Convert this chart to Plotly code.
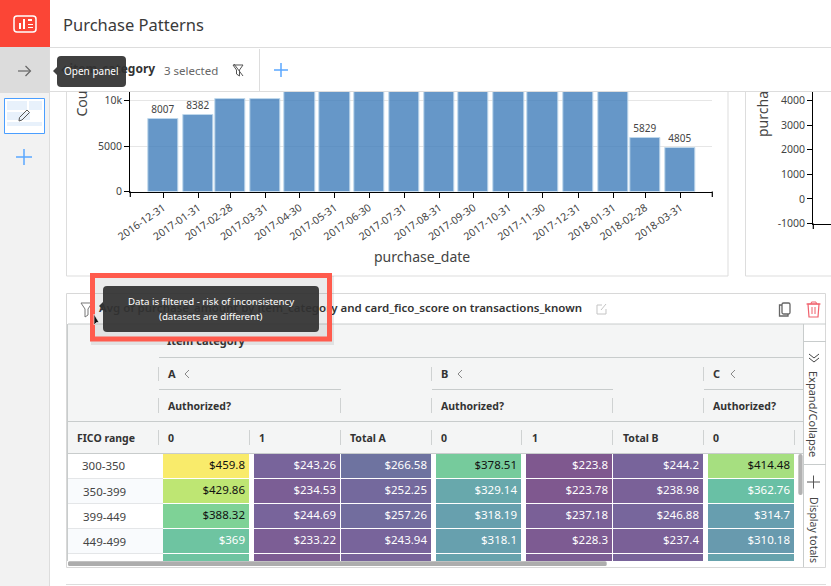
import plotly.graph_objects as go

W, H = 831, 586
FONT = "Noto Sans"
DARK = "#333333"
LINE = "#dddddd"
BLUE = "#5aa7ff"

# bar chart values (bars above the header are hidden in the screenshot, estimated)
purchase_dates = ["2016-12-31", "2017-01-31", "2017-02-28", "2017-03-31", "2017-04-30",
                  "2017-05-31", "2017-06-30", "2017-07-31", "2017-08-31", "2017-09-30",
                  "2017-10-31", "2017-11-30", "2017-12-31", "2018-01-31", "2018-02-28",
                  "2018-03-31"]
purchase_counts = [8007, 8382, 10150, 10150, 11200, 12300, 12800, 13900, 14700, 15200,
                   16700, 17300, 19400, 19800, 5829, 4805]
bar_labels = ["8007", "8382", "", "", "", "", "", "", "", "", "", "", "", "", "5829", "4805"]
bar_ticks = [0, 5000, 10000]
bar_tick_labels = ["0", "5000", "10k"]
side_ticks = [-1000, 0, 1000, 2000, 3000, 4000]

# pivot table values (last row is cut off in the screenshot, colours only)
fico_ranges = ["300-350", "350-399", "399-449", "449-499", ""]
col_a0 = [459.8, 429.86, 388.32, 369, 369]
col_a1 = [243.26, 234.53, 244.69, 233.22, 230]
col_a_total = [266.58, 252.25, 257.26, 243.94, 243]
col_b0 = [378.51, 329.14, 318.19, 318.1, 322]
col_b1 = [223.8, 223.78, 237.18, 228.3, 233]
col_b_total = [244.2, 238.98, 246.88, 237.4, 243]
col_c0 = [414.48, 362.76, 314.7, 310.18, 322]
table_headers = ["0", "1", "Total A", "0", "1", "Total B", "0"]

# colours read from the cells
heat_values = [223.78, 244, 266.58, 314, 362.76, 388.32, 429.86, 459.8]
heat_colors = ["#7f588f", "#78649b", "#6e73a0", "#679daf", "#69c0a5", "#7ed296", "#bee673", "#f9eb6b"]

table_cols = [col_a0, col_a1, col_a_total, col_b0, col_b1, col_b_total, col_c0]
cell_left = [163, 254, 341, 436, 526, 613, 708]
cell_right = [249, 340, 431, 521, 612, 703, 794]
row_top = [454, 479, 504, 529, 554, 579]


def xp(x):
    return x / W


def yp(y):
    return 1 - y / H


def pt(x, y):
    return f"{xp(x):.5f},{yp(y):.5f}"


shapes = []
annotations = []


def rect(x0, y0, x1, y1, fill=None, line=None, width=1, layer="below"):
    shapes.append(dict(type="rect", xref="paper", yref="paper", x0=xp(x0), x1=xp(x1),
                       y0=yp(y1), y1=yp(y0), fillcolor=fill or "rgba(0,0,0,0)",
                       line=dict(color=line or "rgba(0,0,0,0)", width=width if line else 0),
                       layer=layer))


def seg(x0, y0, x1, y1, color=LINE, width=1, layer="below"):
    shapes.append(dict(type="line", xref="paper", yref="paper", x0=xp(x0), x1=xp(x1),
                       y0=yp(y0), y1=yp(y1), line=dict(color=color, width=width), layer=layer))


def path(points, fill=None, line=None, width=1, close=True, layer="above"):
    d = "M" + " L".join(pt(x, y) for x, y in points) + (" Z" if close else "")
    shapes.append(dict(type="path", xref="paper", yref="paper", path=d,
                       fillcolor=fill or "rgba(0,0,0,0)",
                       line=dict(color=line or "rgba(0,0,0,0)", width=width if line else 0),
                       layer=layer))


def round_rect(x0, y0, x1, y1, r, fill=None, line=None, width=1, layer="above"):
    d = (f"M{pt(x0 + r, y0)} L{pt(x1 - r, y0)} Q{pt(x1, y0)} {pt(x1, y0 + r)} "
         f"L{pt(x1, y1 - r)} Q{pt(x1, y1)} {pt(x1 - r, y1)} L{pt(x0 + r, y1)} "
         f"Q{pt(x0, y1)} {pt(x0, y1 - r)} L{pt(x0, y0 + r)} Q{pt(x0, y0)} {pt(x0 + r, y0)} Z")
    shapes.append(dict(type="path", xref="paper", yref="paper", path=d,
                       fillcolor=fill or "rgba(0,0,0,0)",
                       line=dict(color=line or "rgba(0,0,0,0)", width=width if line else 0),
                       layer=layer))


def label(x, y, text, size=12, color=DARK, anchor="left", bold=False, angle=0):
    annotations.append(dict(xref="paper", yref="paper", x=xp(x), y=yp(y), showarrow=False,
                            text=f"<b>{text}</b>" if bold else text, textangle=angle,
                            xanchor=anchor, yanchor="middle", borderpad=0,
                            font=dict(family=FONT, size=size, color=color)))


# page chrome under the charts
rect(0, 0, 50, H, fill="#f2f2f2")
seg(49.5, 47, 49.5, H)
rect(0, 47, 49, 93, fill="#dcdcdc")
rect(66.5, 91.5, 728, 276, line=LINE)
rect(745.5, 91.5, 840, 276, line=LINE)
rect(66.5, 293.5, 825.5, 567.5, line="#d8d8d8")
rect(68, 324, 803, 453, fill="#f4f5f5")
seg(68, 324, 826, 324, color="#c8cccc")
seg(159, 357.5, 803, 357.5, color="#c8cccc")
seg(159, 389.5, 341, 389.5, color="#c8cccc")
seg(432, 389.5, 613, 389.5, color="#c8cccc")
seg(704, 389.5, 803, 389.5, color="#c8cccc")
seg(68, 421.5, 803, 421.5, color="#c8cccc")
seg(68, 453.5, 803, 453.5, color="#c8cccc")
seg(67.5, 324, 67.5, 561, color="#c8cccc")
seg(803.5, 324, 803.5, 567, color="#c8cccc")
seg(803.5, 341.5, 826, 341.5, color="#c8cccc")
seg(803.5, 464.5, 826, 464.5, color="#c8cccc")
seg(66, 584.5, 826, 584.5)
for x in [158.5, 431.5, 703.5]:
    seg(x, 367, x, 381, color="#cfd2d2")
for x in [158.5, 340.5, 431.5, 612.5, 703.5]:
    seg(x, 398, x, 413, color="#cfd2d2")
for x in [158.5, 249.5, 340.5, 431.5, 521.5, 612.5, 703.5, 794.5]:
    seg(x, 430, x, 445, color="#cfd2d2")
rect(68, 479, 163, 504, fill="#f9fbfd")
rect(68, 529, 163, 554, fill="#f9fbfd")
for y in row_top[1:5]:
    seg(68, y - 0.5, 163, y - 0.5, color="#e4e6e8")

# thumbnail and plus in the side bar
rect(4.5, 98.5, 44.5, 133.5, fill="#ffffff", line="#4a9eff")
rect(7, 101, 27, 110, fill="#e8f1fb")
rect(29, 101, 42, 110, fill="#e8f1fb")
rect(7, 112, 30, 120, fill="#e8f1fb")
rect(7, 122, 42, 126, fill="#e8f1fb")
path([(19, 121), (19.5, 117.5), (27, 110), (29.5, 112.5), (22, 120)], line="#555555", width=1)
seg(16, 157, 32, 157, color=BLUE, width=1.5)
seg(24, 149, 24, 165, color=BLUE, width=1.5)

# axes ends that plotly does not draw
seg(130.3, 191.5, 130.3, 197, color="#000000", width=1.2, layer="above")
seg(712.3, 191.5, 712.3, 197, color="#000000", width=1.2, layer="above")
seg(813.3, 223.5, 813.3, 229, color="#000000", width=1.2, layer="above")

# header and filter row
seg(0, 47.5, W, 47.5)
seg(50, 91.5, W, 91.5)
seg(259.5, 49, 259.5, 91)
rect(0, 0, 50, 47, fill="#fb4536")
round_rect(14, 16, 36, 32, 3, line="#ffffff", width=1.5)
rect(19, 23, 21, 29, fill="#ffffff", layer="above")
rect(23, 19, 25, 29, fill="#ffffff", layer="above")
rect(28, 19, 32, 21, fill="#ffffff", layer="above")
rect(28, 24, 33, 25, fill="#ffffff", layer="above")
rect(28, 27, 33, 28, fill="#ffffff", layer="above")
seg(18, 71, 30, 71, color="#666666", width=1.2, layer="above")
path([(25.5, 66), (30.5, 71), (25.5, 76)], line="#666666", width=1.2, close=False)
seg(274, 70, 288, 70, color=BLUE, width=1.5, layer="above")
seg(281, 63, 281, 77, color=BLUE, width=1.5, layer="above")
path([(233, 65), (243, 65), (239.5, 70), (239.5, 76), (236.5, 74), (236.5, 70)], line="#555555")
seg(234, 64, 243, 76, color="#555555", layer="above")
path([(66, 66), (62, 70), (66, 74)], line="#333333", width=1.2, close=False, layer="below")

# open panel tooltip
round_rect(57, 56, 126, 87, 4, fill="rgba(50,50,50,0.93)")
path([(53, 71), (57, 67), (57, 75)], fill="rgba(50,50,50,0.93)")

# scroll bars
round_rect(68, 561.3, 606.7, 566, 1.5, fill="#adadad")
round_rect(798.3, 454, 802.6, 495, 2, fill="#b2b2b2")

# title row icons
path([(81, 303), (92, 303), (88, 309), (88, 315), (85, 317), (85, 309)], line="#777777")
path([(602, 305), (597, 305), (597, 314), (606, 314), (606, 309)], line="#c4c4c4", close=False)
seg(601, 310, 606, 304, color="#c4c4c4")
rect(779.5, 305, 788, 316, fill="#ffffff", line="#666666", width=1.3, layer="above")
round_rect(782, 303, 790, 314, 1.5, fill="#ffffff", line="#666666", width=1.3)
path([(808, 304), (819, 304), (818, 317), (809, 317)], line="#f0616d", width=1.2)
seg(806.5, 304, 820.5, 304, color="#f0616d", width=1.2, layer="above")
path([(811, 304), (811.5, 302), (816, 302), (816.5, 304)], line="#f0616d", close=False)
seg(812, 307, 812, 314, color="#f0616d", layer="above")
seg(815, 307, 815, 314, color="#f0616d", layer="above")

# red call-out with its shadow, and the filter tooltip inside it
rect(91, 276, 334, 345, fill="rgba(60,60,60,0.10)", layer="above")
rect(92.5, 275.5, 329.5, 339, line="#ff5b4d", width=5, layer="above")
round_rect(103, 286, 319, 332, 4, fill="rgba(50,50,50,0.93)")
path([(99, 306), (103, 302), (103, 310)], fill="#333333")
path([(94, 314), (94, 325), (96.5, 322.5), (99, 322.5)], fill="#111111", line="#ffffff", width=0.6)

# text that is not covered by anything
label(62, 25, "Purchase Patterns", size=16.5, color="#3a3a3a")
label(163, 70, "3 selected", size=11.5, color="#666666")
label(422, 256, "purchase_date", size=14, color="#444444", anchor="center")
label(81, 103.5, "Cou", size=14, color="#444444", anchor="center", angle=-90)
label(762, 114, "purcha", size=14, color="#444444", anchor="center", angle=-90)

label(167, 374, "A", size=11, bold=True)
label(440, 374, "B", size=11, bold=True)
label(712, 374, "C", size=11, bold=True)
for x in [185, 458, 731]:
    path([(x + 4, 370), (x, 374), (x + 4, 378)], line="#888888", close=False)
for x in [167, 440, 712]:
    label(x, 406, "Authorized?", size=10.5, bold=True)
label(76, 438, "FICO range", size=10.5, bold=True)
for x, name in zip([167, 258, 349, 440, 531, 622, 712], table_headers):
    label(x, 438, name, size=10.5, bold=True)
for y, name in zip(row_top, fico_ranges):
    label(104, y + 12, name, size=11.5, color="#444444", anchor="center")

label(814, 414, "Expand/Collapse", size=11, color="#444444", anchor="center", angle=90)
label(814, 530, "Display totals", size=10.5, color="#444444", anchor="center", angle=90)
path([(809, 354), (814, 358), (819, 354)], line="#444444", close=False)
path([(809, 358), (814, 362), (819, 358)], line="#444444", close=False)
seg(807, 482, 820, 482, color="#555555", layer="above")
seg(813.5, 475.5, 813.5, 488.5, color="#555555", layer="above")

label(91.5, 71, "Open panel", size=10, color="#ffffff", anchor="center")
label(211, 301, "Data is filtered - risk of inconsistency", size=9.7, color="#ffffff", anchor="center")
label(211, 316, "(datasets are different)", size=9.7, color="#ffffff", anchor="center")

fig = go.Figure()

# monthly purchases, time axis so the bars follow the calendar
bar_days = 26.7
fig.add_trace(go.Bar(
    x=purchase_dates,
    y=purchase_counts,
    text=bar_labels,
    textposition="outside",
    textangle=0,
    textfont=dict(family=FONT, size=10, color="#444444"),
    cliponaxis=True,
    width=bar_days * 86400000,
    marker=dict(color="rgba(64,125,186,0.8)", line=dict(color="rgba(190,215,235,1)", width=1)),
    hoverinfo="skip",
    xaxis="x",
    yaxis="y",
))

# the next chart is only visible by its axis
fig.add_trace(go.Scatter(x=[0], y=[0], mode="markers", marker=dict(opacity=0),
                         hoverinfo="skip", xaxis="x2", yaxis="y2"))

# pivot cells, gutters between the columns stay empty
heat_edges = []
for left, right in zip(cell_left, cell_right):
    heat_edges += [left, right]
heat_z = []
for r in range(len(fico_ranges)):
    row = []
    for c, col in enumerate(table_cols):
        row.append(col[r])
        if c < len(table_cols) - 1:
            row.append(None)
    heat_z.append(row)
heat_scale = [[(v - heat_values[0]) / (heat_values[-1] - heat_values[0]), c]
              for v, c in zip(heat_values, heat_colors)]
fig.add_trace(go.Heatmap(x=heat_edges, y=row_top, z=heat_z, colorscale=heat_scale,
                         zmin=heat_values[0], zmax=heat_values[-1], showscale=False,
                         ygap=1, hoverinfo="skip", xaxis="x3", yaxis="y3"))

# cell amounts, right aligned, only the four readable rows
txt_x, txt_y, txt, txt_color = [], [], [], []
for c, col in enumerate(table_cols):
    for r in range(4):
        txt_x.append(cell_right[c] - 4)
        txt_y.append((row_top[r] + row_top[r + 1]) / 2 - 0.5)
        txt.append(f"${col[r]:g}")
        txt_color.append("#111111" if col[r] >= 378 else "#ffffff")
fig.add_trace(go.Scatter(x=txt_x, y=txt_y, text=txt, mode="text", textposition="middle left",
                         textfont=dict(family=FONT, size=11.5, color=txt_color),
                         hoverinfo="skip", xaxis="x3", yaxis="y3"))

# text that sits under the tooltips, so it goes in as a trace on a page sized axis
under_x = [69.5, 99, 167]
under_y = [70, 309, 342.5]
under_text = ["<b>item_category</b>",
              "Avg of purchase_amount by item_category and card_fico_score on transactions_known",
              "<b>Item category</b>"]
fig.add_trace(go.Scatter(x=under_x, y=under_y, text=under_text, mode="text", textposition="middle right",
                         textfont=dict(family=FONT, size=[12, 11.5, 11], color=DARK, weight=[400, 600, 400]),
                         cliponaxis=False, hoverinfo="skip", xaxis="x4", yaxis="y4"))

fig.update_layout(
    width=W,
    height=H,
    margin=dict(l=0, r=0, t=0, b=0, pad=0, autoexpand=False),
    autosize=False,
    showlegend=False,
    paper_bgcolor="#ffffff",
    plot_bgcolor="rgba(0,0,0,0)",
    bargap=0,
    uniformtext=dict(mode=False),
    font=dict(family=FONT, size=12, color="#444444"),
    shapes=shapes,
    annotations=annotations,
    xaxis=dict(
        type="date",
        domain=[xp(130.3), xp(712.3)],
        range=["2016-12-02", "2018-04-28"],
        tickvals=purchase_dates,
        ticktext=purchase_dates,
        tickangle=-35,
        ticks="outside",
        ticklen=5,
        tickcolor="#000000",
        tickfont=dict(size=10.5, color="#444444"),
        showgrid=False,
        showline=True,
        linecolor="#000000",
        linewidth=1.2,
        zeroline=False,
        anchor="y",
    ),
    yaxis=dict(
        domain=[yp(191.5), yp(92)],
        range=[0, 10934],
        tickvals=bar_ticks,
        ticktext=bar_tick_labels,
        ticks="outside",
        ticklen=5,
        tickcolor="#000000",
        tickfont=dict(size=10.5, color="#444444"),
        gridcolor="#e6e6e6",
        showline=True,
        linecolor="#000000",
        linewidth=1.2,
        zeroline=False,
        anchor="x",
    ),
    xaxis2=dict(
        domain=[xp(813.3), 1],
        range=[1, 2],
        showticklabels=False,
        ticks="",
        showgrid=False,
        showline=True,
        linecolor="#000000",
        linewidth=1.2,
        zeroline=False,
        anchor="y2",
    ),
    yaxis2=dict(
        domain=[yp(223.5), yp(92)],
        range=[-1000, 4340],
        tickvals=side_ticks,
        ticktext=[str(v) for v in side_ticks],
        ticks="outside",
        ticklen=5,
        tickcolor="#000000",
        tickfont=dict(size=10.5, color="#444444"),
        showgrid=False,
        showline=True,
        linecolor="#000000",
        linewidth=1.2,
        zeroline=False,
        anchor="x2",
    ),
    xaxis3=dict(domain=[xp(163), xp(794)], range=[163, 794], visible=False, anchor="y3"),
    yaxis3=dict(domain=[yp(561), yp(454)], range=[561, 454], visible=False, anchor="x3"),
    xaxis4=dict(domain=[0, 1], range=[0, W], visible=False, anchor="y4"),
    yaxis4=dict(domain=[0, 1], range=[H, 0], visible=False, anchor="x4"),
)

fig.write_html("out.html", config={"displayModeBar": False},
               post_script="document.body.style.margin='0';document.body.style.overflow='hidden';")
